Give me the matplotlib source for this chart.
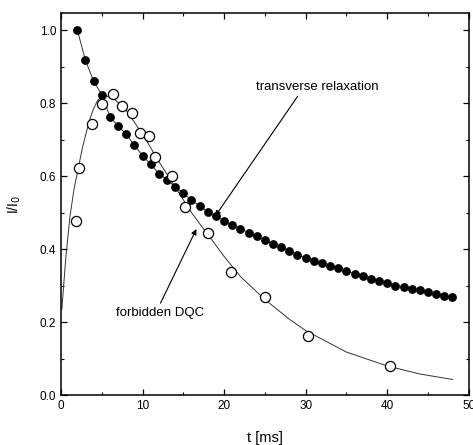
import matplotlib
matplotlib.use('Agg')
import matplotlib.pyplot as plt
from matplotlib.ticker import MultipleLocator

plt.rcParams['font.family'] = ['Liberation Sans', 'DejaVu Sans']

# transverse relaxation (filled circles)
t_trans = list(range(2, 49))
i_trans = [1.0, 0.917, 0.860, 0.823, 0.763, 0.737, 0.715, 0.684, 0.656, 0.632,
           0.607, 0.589, 0.571, 0.553, 0.534, 0.519, 0.502, 0.490, 0.478, 0.465,
           0.456, 0.445, 0.435, 0.425, 0.414, 0.405, 0.394, 0.385, 0.375, 0.367,
           0.361, 0.355, 0.348, 0.339, 0.333, 0.326, 0.319, 0.313, 0.307, 0.300,
           0.297, 0.291, 0.287, 0.282, 0.278, 0.272, 0.268]

# forbidden DQC (open circles)
t_dqc = [1.84, 2.25, 3.77, 5.08, 6.35, 7.53, 8.76, 9.7, 10.85, 11.47,
         13.55, 15.15, 17.97, 20.9, 25.0, 30.3, 40.3]
i_dqc = [0.478, 0.623, 0.742, 0.797, 0.826, 0.792, 0.773, 0.719, 0.711, 0.653,
         0.601, 0.516, 0.445, 0.336, 0.268, 0.162, 0.081]

# fitted curve through DQC points
t_fit = [0.1, 0.6, 1.1, 1.6, 2.1, 2.6, 3.1, 3.6, 4.0, 4.5, 5.0, 5.5, 6.5, 8, 10,
         12, 14, 16, 18, 20, 22, 25, 28, 30, 35, 40, 44, 48]
i_fit = [0.235, 0.38, 0.49, 0.565, 0.62, 0.675, 0.72, 0.76, 0.785, 0.808, 0.817,
         0.82, 0.812, 0.78, 0.715, 0.64, 0.57, 0.50, 0.44, 0.38, 0.325, 0.262,
         0.208, 0.177, 0.118, 0.08, 0.058, 0.043]

fig = plt.figure(figsize=(4.73, 4.45), dpi=100)
ax = fig.add_axes([0.129, 0.112, 0.862, 0.859])

ax.plot(t_fit, i_fit, color='#333333', lw=0.7, zorder=2)
ax.plot(t_trans, i_trans, color='#333333', lw=0.7, zorder=2)
ax.plot(t_trans, i_trans, 'o', color='black', ms=5.3, zorder=3)
ax.plot(t_dqc, i_dqc, 'o', mfc='white', mec='black', mew=0.9, ms=7.3, zorder=4)

arrow = dict(arrowstyle='-|>', lw=0.8, color='black', mutation_scale=8,
             shrinkA=0, shrinkB=0)
ax.text(31.4, 0.844, 'transverse relaxation', fontsize=9.5, ha='center', va='center')
ax.annotate('', xy=(18.9, 0.49), xytext=(29.0, 0.818), arrowprops=arrow)
ax.text(12.2, 0.225, 'forbidden DQC', fontsize=9.5, ha='center', va='center')
ax.annotate('', xy=(16.6, 0.455), xytext=(12.2, 0.252), arrowprops=arrow)

ax.set_xlim(0, 50)
ax.set_ylim(0, 1.047)
ax.xaxis.set_major_locator(MultipleLocator(10))
ax.xaxis.set_minor_locator(MultipleLocator(5))
ax.yaxis.set_major_locator(MultipleLocator(0.2))
ax.yaxis.set_minor_locator(MultipleLocator(0.1))
ax.tick_params(which='both', direction='in', top=True, right=True, labelsize=8.5)
ax.tick_params(which='major', length=4, width=0.9)
ax.tick_params(which='minor', length=2.5, width=0.8)
for s in ax.spines.values():
    s.set_linewidth(1.1)

ax.set_xlabel('t [ms]', fontsize=10.5, labelpad=14)
ax.set_ylabel('I/I$_0$', fontsize=10, labelpad=12)

fig.savefig('out.png', dpi=100)
